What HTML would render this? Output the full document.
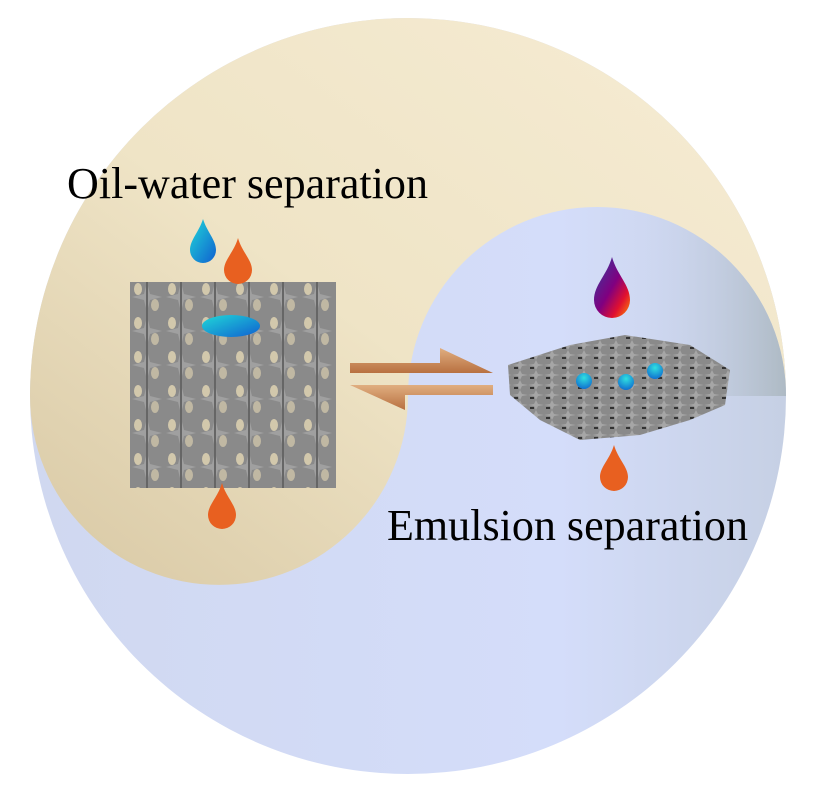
<!DOCTYPE html>
<html><head><meta charset="utf-8"><style>html,body{margin:0;padding:0;background:#fff}svg{display:block}</style></head>
<body>
<svg width="816" height="787" viewBox="0 0 816 787" xmlns="http://www.w3.org/2000/svg">
<defs>
<linearGradient id="beige" x1="0" y1="1" x2="1" y2="0">
<stop offset="0" stop-color="#d8c8a4"/><stop offset="0.45" stop-color="#efe4c6"/><stop offset="1" stop-color="#f6ecd4"/>
</linearGradient>
<linearGradient id="blue" x1="0" y1="0" x2="1" y2="0">
<stop offset="0" stop-color="#d0d8f0"/><stop offset="0.7" stop-color="#d4ddfa"/><stop offset="1" stop-color="#c6d0e4"/>
</linearGradient>
<linearGradient id="bluetop" x1="408" y1="0" x2="786" y2="0" gradientUnits="userSpaceOnUse">
<stop offset="0.55" stop-color="#d4ddfa" stop-opacity="0"/><stop offset="1" stop-color="#aebac4"/>
</linearGradient>
<linearGradient id="water" x1="0" y1="0" x2="1" y2="1">
<stop offset="0" stop-color="#20d8d8"/><stop offset="1" stop-color="#1060d0"/>
</linearGradient>
<linearGradient id="purp" x1="0" y1="0" x2="1" y2="1">
<stop offset="0" stop-color="#3040a0"/><stop offset="0.5" stop-color="#800080"/><stop offset="0.75" stop-color="#e01030"/><stop offset="1" stop-color="#ff9000"/>
</linearGradient>
<radialGradient id="dot" cx="0.5" cy="0.3" r="0.7"><stop offset="0" stop-color="#30e0e0"/><stop offset="1" stop-color="#1070d0"/></radialGradient>
<linearGradient id="arr" x1="0" y1="0" x2="0" y2="1"><stop offset="0" stop-color="#e0ae80"/><stop offset="1" stop-color="#b87040"/></linearGradient>
<pattern id="lat" x="130" y="280" width="34" height="34" patternUnits="userSpaceOnUse">
<rect width="34" height="34" fill="#8a8a8a"/>
<ellipse cx="8" cy="9" rx="4" ry="6" fill="#e4d7b4" opacity="0.8"/>
<ellipse cx="25" cy="25" rx="4" ry="6" fill="#e4d7b4" opacity="0.6"/>
<path d="M17 2 L20 14 L32 17 L20 20 L17 32 L14 20 L2 17 L14 14Z" fill="#a0a0a0"/>
<rect x="16" y="0" width="2" height="34" fill="#666"/>
</pattern>
<pattern id="lat2" x="0" y="0" width="16" height="10" patternUnits="userSpaceOnUse">
<rect width="16" height="10" fill="#8a8a8a"/>
<path d="M8 0 L10 4 L16 5 L10 6 L8 10 L6 6 L0 5 L6 4Z" fill="#a6a6a6"/>
<rect x="2" y="7" width="4" height="2" fill="#333"/>
</pattern>
</defs>
<circle cx="408" cy="396" r="378" fill="url(#blue)"/>
<path d="M30 396 A378 378 0 0 1 786 396 A189 189 0 0 0 408 396 A189 189 0 0 1 30 396Z" fill="url(#beige)"/>
<path d="M408 396 A189 189 0 0 1 786 396Z" fill="url(#bluetop)"/>
<text x="67" y="198" font-family="Liberation Serif, serif" font-size="44" textLength="361" lengthAdjust="spacingAndGlyphs">Oil-water separation</text>
<text x="387" y="540" font-family="Liberation Serif, serif" font-size="44" textLength="361" lengthAdjust="spacingAndGlyphs">Emulsion separation</text>
<rect x="130" y="282" width="206" height="206" fill="url(#lat)"/>
<ellipse cx="231" cy="326" rx="29" ry="11" fill="url(#water)"/>
<path d="M203 219 C207 232 216 240 216 250 A13 13 0 0 1 190 250 C190 240 199 232 203 219Z" fill="url(#water)"/>
<path d="M238 238 C242 252 252 260 252 270 A14 14 0 0 1 224 270 C224 260 234 252 238 238Z" fill="#e86020"/>
<path d="M222 483 C226 497 236 505 236 515 A14 14 0 0 1 208 515 C208 505 218 497 222 483Z" fill="#e86020"/>
<path d="M614 445 C618 459 628 467 628 477 A14 14 0 0 1 600 477 C600 467 610 459 614 445Z" fill="#e86020"/>
<path d="M612 257 C617 275 630 285 630 300 A18 18 0 0 1 594 300 C594 285 607 275 612 257Z" fill="url(#purp)"/>
<polygon points="350,363 440,363 440,348 493,373 350,373" fill="url(#arr)"/>
<polygon points="493,385 350,385 405,410 405,395 493,395" fill="url(#arr)"/>
<polygon points="508,365 570,345 625,335 690,345 730,370 725,405 690,420 640,435 580,440 540,420 510,395" fill="url(#lat2)"/>
<circle cx="584" cy="381" r="8" fill="url(#dot)"/>
<circle cx="626" cy="382" r="8" fill="url(#dot)"/>
<circle cx="655" cy="371" r="8" fill="url(#dot)"/>
</svg>
</body></html>
